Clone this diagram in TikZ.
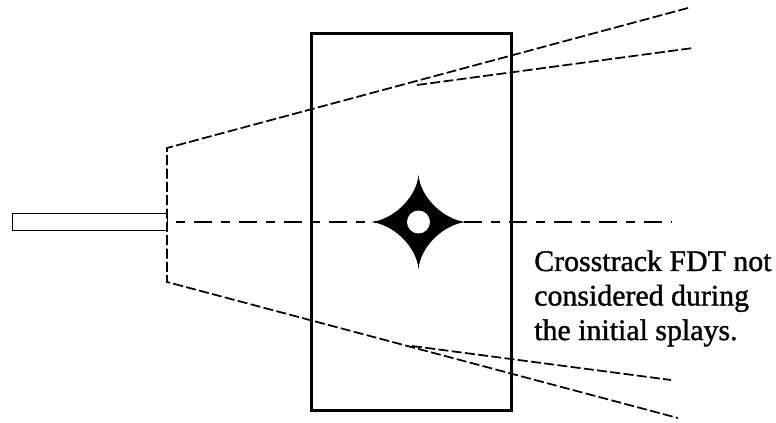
\documentclass[tikz,border=0pt]{standalone}
\usepackage{fontspec}
\setmainfont[FakeBold=1.2]{Liberation Serif}
\tikzset{
  frame/.style={draw=black,line width=2.25pt},
  stub/.style={draw=black,line width=0.7pt},
  splay/.style={draw=black,line width=1.3pt,dash pattern=on 7.5pt off 2.5pt},
  axis/.style={draw=black,line width=1.3pt,dash pattern=on 6.75pt off 6.75pt on 13.5pt off 6.75pt},
  note/.style={anchor=north west,align=left,inner sep=0pt,font=\fontsize{22.4pt}{25.9pt}\selectfont}
}
\begin{document}
\begin{tikzpicture}[x=0.75pt,y=-0.75pt]
\useasboundingbox (0,0) rectangle (776,422);
\coordinate (sh) at (167,148);
\coordinate (sl) at (167,282);
\coordinate (ut) at (688,8);
\coordinate (um) at (417,85);
\coordinate (ue) at (693,48);
\coordinate (lm) at (412,346);
\coordinate (le) at (671,380);
\coordinate (lt) at (678,418);
\coordinate (ax0) at (176,222);
\coordinate (ax1) at (672,222);
\coordinate (c) at (418.5,222);
\node[frame,rectangle,minimum width=150pt,minimum height=282.75pt,inner sep=0pt] (box) at (411,221.5) {};
\node[stub,rectangle,minimum width=116.25pt,minimum height=12.75pt,inner sep=0pt] (tube) at (89.5,221.5) {};
\draw[splay] (ut) -- (sh) -- (sl) -- (lt);
\draw[splay] (um) -- (ue);
\draw[splay] (lm) -- (le);
\draw[axis] (ax0) -- (ax1);
\fill[black] (418.5,175)
  .. controls (420.5,198) and (444.5,220) .. (466,222)
  .. controls (444.5,224) and (420.5,246) .. (418.5,269)
  .. controls (416.5,246) and (392.5,224) .. (371,222)
  .. controls (392.5,220) and (416.5,198) .. (418.5,175) -- cycle;
\fill[white] (c) circle[radius=8.6pt];
\node[note] (txt) at (534,250) {Crosstrack FDT not\\considered during\\the initial splays.};
\end{tikzpicture}
\end{document}
